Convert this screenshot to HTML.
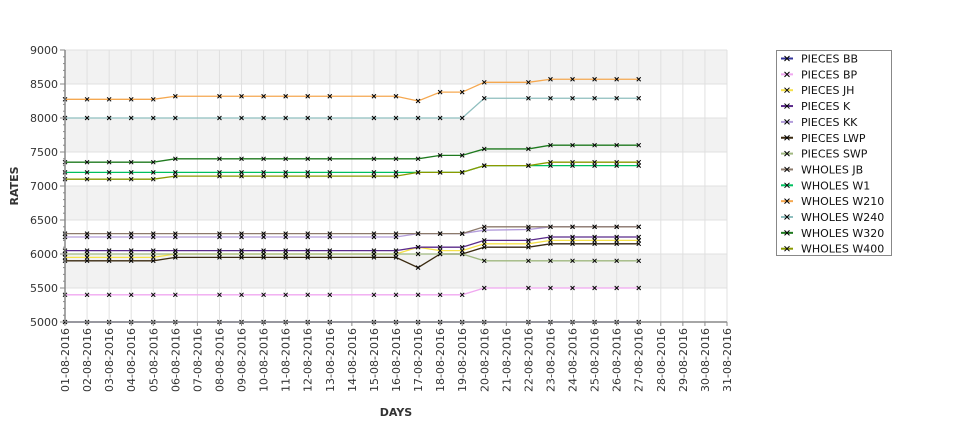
<!DOCTYPE html>
<html><head><meta charset="utf-8"><style>
body{margin:0;background:#fff;width:975px;height:429px;overflow:hidden;font-family:"Liberation Sans","DejaVu Sans",sans-serif}
</style></head><body>
<svg id="chart" width="975" height="429" xmlns="http://www.w3.org/2000/svg" font-family="DejaVu Sans, Liberation Sans, sans-serif"></svg>
<script>
const days=[1,2,3,4,5,6,8,9,10,11,12,13,15,16,17,18,19,20,22,23,24,25,26,27];
const yTicks=[5000,5500,6000,6500,7000,7500,8000,8500,9000];
const seriesNames=["PIECES BB","PIECES BP","PIECES JH","PIECES K","PIECES KK","PIECES LWP","PIECES SWP","WHOLES JB","WHOLES W1","WHOLES W210","WHOLES W240","WHOLES W320","WHOLES W400"];
const seriesColors=["#333399","#f0a8f0","#f5e14a","#5a2a8a","#b39ddb","#3a2a10","#a0b880","#8c7a6b","#00c060","#f5a850","#8fbfbf","#1f7a1f","#8a9a00"];
const sBB=[5000,5000,5000,5000,5000,5000,5000,5000,5000,5000,5000,5000,5000,5000,5000,5000,5000,5000,5000,5000,5000,5000,5000,5000];
const sBP=[5400,5400,5400,5400,5400,5400,5400,5400,5400,5400,5400,5400,5400,5400,5400,5400,5400,5500,5500,5500,5500,5500,5500,5500];
const sJH=[5950,5950,5950,5950,5950,6000,6000,6000,6000,6000,6000,6000,6000,6000,6100,6050,6050,6150,6150,6200,6200,6200,6200,6200];
const sK=[6050,6050,6050,6050,6050,6050,6050,6050,6050,6050,6050,6050,6050,6050,6100,6100,6100,6200,6200,6250,6250,6250,6250,6250];
const sKK=[6250,6250,6250,6250,6250,6250,6250,6250,6250,6250,6250,6250,6250,6250,6300,6300,6300,6350,6360,6400,6400,6400,6400,6400];
const sLWP=[5900,5900,5900,5900,5900,5950,5950,5950,5950,5950,5950,5950,5950,5950,5800,6000,6000,6100,6100,6150,6150,6150,6150,6150];
const sSWP=[6000,6000,6000,6000,6000,6000,6000,6000,6000,6000,6000,6000,6000,6000,6000,6000,6000,5900,5900,5900,5900,5900,5900,5900];
const sJB=[6300,6300,6300,6300,6300,6300,6300,6300,6300,6300,6300,6300,6300,6300,6300,6300,6300,6400,6400,6400,6400,6400,6400,6400];
const sW1=[7200,7200,7200,7200,7200,7200,7200,7200,7200,7200,7200,7200,7200,7200,7200,7200,7200,7300,7300,7300,7300,7300,7300,7300];
const sW210=[8275,8275,8275,8275,8275,8320,8320,8320,8320,8320,8320,8320,8320,8320,8250,8380,8380,8525,8525,8570,8570,8570,8570,8570];
const sW240=[8000,8000,8000,8000,8000,8000,8000,8000,8000,8000,8000,8000,8000,8000,8000,8000,8000,8290,8290,8290,8290,8290,8290,8290];
const sW320=[7350,7350,7350,7350,7350,7400,7400,7400,7400,7400,7400,7400,7400,7400,7400,7450,7450,7545,7545,7600,7600,7600,7600,7600];
const sW400=[7100,7100,7100,7100,7100,7145,7145,7145,7145,7145,7145,7145,7145,7145,7200,7200,7200,7300,7300,7350,7350,7350,7350,7350];
const allSeries=[sBB,sBP,sJH,sK,sKK,sLWP,sSWP,sJB,sW1,sW210,sW240,sW320,sW400];

const NS="http://www.w3.org/2000/svg";
const svg=document.getElementById('chart');
const L=65,R=727,T=50,B=322;
const x=d=>L+(d-1)*(R-L)/30;
const y=v=>B-(v-5000)*(B-T)/4000;
function mk(tag,attrs,parent){const e=document.createElementNS(NS,tag);for(const k in attrs)e.setAttribute(k,attrs[k]);(parent||svg).appendChild(e);return e;}
for(let i=0;i<yTicks.length-1;i++){
  if(i%2===1){const r=mk('rect',{x:L,y:y(yTicks[i+1]),width:R-L,height:y(yTicks[i])-y(yTicks[i+1]),fill:'#f2f2f2'});
  
  }
}
for(let d=1;d<=31;d++){
  const gl=mk('line',{x1:x(d),x2:x(d),y1:T,y2:B,stroke:'#e0e0e0','stroke-width':1});
  
  
  mk('line',{x1:x(d),x2:x(d),y1:B,y2:B+4,stroke:'#888'});
  const t=mk('text',{x:0,y:0,'font-size':11,fill:'#333','text-anchor':'end',transform:`translate(${x(d)+4},${B+6}) rotate(-90)`});
  t.textContent=(d<10?'0':'')+d+'-08-2016';
  
  
}
yTicks.forEach(v=>{
  const gl=mk('line',{x1:L,x2:R,y1:y(v),y2:y(v),stroke:'#e0e0e0','stroke-width':1});
  
  
  mk('line',{x1:L-5,x2:L,y1:y(v),y2:y(v),stroke:'#888'});
  const t=mk('text',{x:L-7,y:y(v)+4,'font-size':11,fill:'#333','text-anchor':'end'});
  t.textContent=v;
  
  
});
for(let v=5000;v<9000;v+=100){if(v%500)mk('line',{x1:L-2,x2:L,y1:y(v),y2:y(v),stroke:'#888'});}
allSeries.forEach((s,i)=>{
  const g=mk('g',{});
  
  
  const pts=s.map((v,j)=>x(days[j])+','+y(v)).join(' ');
  mk('polyline',{points:pts,fill:'none',stroke:seriesColors[i],'stroke-width':1.3},g);
  s.forEach((v,j)=>{
    const cx=x(days[j]),cy=y(v);
    const p=mk('path',{d:`M${cx-2},${cy-2}L${cx+2},${cy+2}M${cx-2},${cy+2}L${cx+2},${cy-2}`,stroke:'#000','stroke-width':1},g);
    
    
  });
});
const ya=mk('line',{x1:L,x2:L,y1:T,y2:B,stroke:'#888','stroke-width':1.5});


const xa=mk('line',{x1:L,x2:R,y1:B,y2:B,stroke:'#888','stroke-width':1.5});


const yt=mk('text',{x:0,y:0,'font-size':11,'font-weight':'bold',fill:'#333','text-anchor':'middle',transform:'translate(18,186) rotate(-90)'});
yt.textContent='RATES';


const xt=mk('text',{x:396,y:416,'font-size':11,'font-weight':'bold',fill:'#333','text-anchor':'middle'});
xt.textContent='DAYS';


const lg=mk('g',{});


mk('rect',{x:776.5,y:50.5,width:115,height:205,fill:'#fff',stroke:'#888'},lg);
seriesNames.forEach((n,i)=>{
  const e=mk('g',{},lg);
  
  
  const cy=58.5+i*15.85;
  mk('line',{x1:781,x2:793,y1:cy,y2:cy,stroke:seriesColors[i],'stroke-width':2},e);
  mk('path',{d:`M${784.5},${cy-2.5}L${789.5},${cy+2.5}M${784.5},${cy+2.5}L${789.5},${cy-2.5}`,stroke:'#000','stroke-width':1},e);
  const t=mk('text',{x:801,y:cy+4,'font-size':11,fill:'#111'},e);
  t.textContent=n;
});
</script>
</body></html>
